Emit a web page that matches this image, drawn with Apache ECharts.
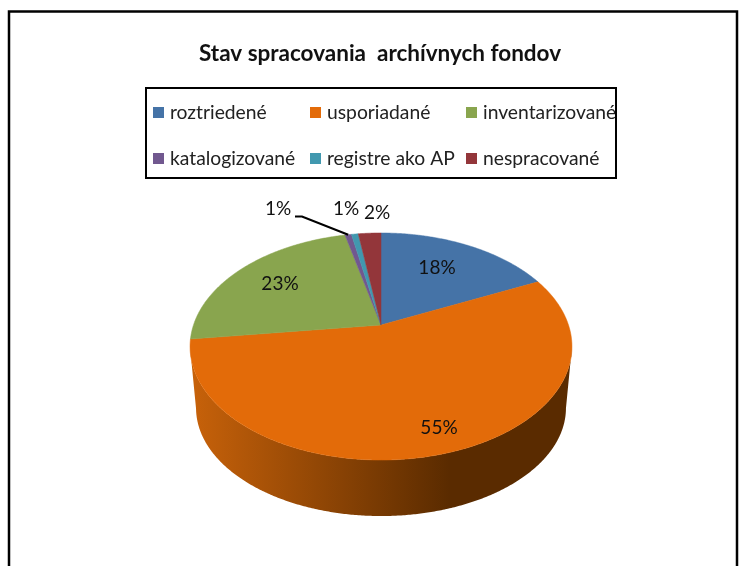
<!DOCTYPE html>
<html>
<head>
<meta charset="utf-8">
<style>html,body{margin:0;padding:0;background:#fff}#c{width:745px;height:566px}</style>
<script src="https://cdn.jsdelivr.net/npm/echarts@6/dist/echarts.min.js"></script>
</head>
<body>
<div id="c"></div>
<script>
const titleText = 'Stav spracovania  archívnych fondov';
const categories = ['roztriedené', 'usporiadané', 'inventarizované', 'katalogizované', 'registre ako AP', 'nespracované'];
const shareValues = [18, 55, 23.35, 0.65, 0.7, 2.3];
const sliceColors = ['#4573A7', '#E36B09', '#89A54E', '#71588F', '#4198AF', '#93363A'];

const FONT = 'Lato,sans-serif';
const legendSlots = [[153, 103], [310, 103], [466, 103], [153, 149], [310, 149], [466, 149]];
const labelSlots = [[437, 268], [439, 428], [280, 284], [278, 209], [346, 209], [377, 213]];

// Tilted-pie projection
const apex = { x: 381, y: 325 };
const persp = { c: -0.1894, a: 47.9, k: 187.5 };
const topEllipse = { cy: 346.5, rx: 191, ry: 113.5 };
const baseEllipse = { cy: 408, rx: 185, ry: 108 };

const total = shareValues.reduce((s, v) => s + v, 0);
const startShare = shareValues.map((_, i) => shareValues.slice(0, i).reduce((s, v) => s + v, 0));

function project(theta) {
  const u = Math.sin(theta), v = -Math.cos(theta), d = 1 + persp.c * v;
  return [apex.x + persp.k * u / d, (persp.a * v + apex.y) / d];
}
function toBase(p) {
  return [
    apex.x + (p[0] - apex.x) * baseEllipse.rx / topEllipse.rx,
    baseEllipse.cy + (p[1] - topEllipse.cy) * baseEllipse.ry / topEllipse.ry
  ];
}
function arcPoints(a0, a1) {
  const n = Math.max(2, Math.ceil((a1 - a0) / 0.008));
  const pts = [];
  for (let i = 0; i <= n; i++) pts.push(project(a0 + (a1 - a0) * i / n));
  return pts;
}

function renderSlice(idx, api) {
  const value = api.value(0);
  const a0 = startShare[idx] / total * Math.PI * 2;
  const a1 = a0 + value / total * Math.PI * 2;
  const arc = arcPoints(a0, a1);
  const children = [];
  const front = arc.filter(p => p[1] >= topEllipse.cy);
  if (front.length > 1) {
    const back = front.map(toBase).reverse();
    children.push({
      type: 'polygon', z2: 1,
      shape: { points: front.concat(back) },
      style: {
        fill: new echarts.graphic.LinearGradient(190, 0, 572, 0, [
          { offset: 0, color: '#C8620A' },
          { offset: 0.68, color: '#5A2B00' },
          { offset: 1, color: '#5A2B00' }
        ], true)
      }
    });
  }
  children.push({
    type: 'polygon', z2: 2,
    shape: { points: [[apex.x, apex.y]].concat(arc) },
    style: { fill: sliceColors[idx], stroke: sliceColors[idx], lineWidth: 0.5 }
  });
  if (idx === 3) {
    const mid = project((a0 + a1) / 2);
    children.push({
      type: 'polyline', z2: 3,
      shape: { points: [[295, 216.5], [302, 216.5], mid] },
      style: { fill: null, stroke: '#000', lineWidth: 2.2 }
    });
  }
  children.push({
    type: 'text', z2: 4,
    style: {
      x: labelSlots[idx][0], y: labelSlots[idx][1],
      text: Math.round(value / total * 100) + '%',
      font: '19px ' + FONT, fill: '#111', align: 'center', verticalAlign: 'middle'
    }
  });
  return { type: 'group', children };
}

const chart = echarts.init(document.getElementById('c'), null, { renderer: 'canvas' });
chart.setOption({
  animation: false,
  backgroundColor: '#fff',
  title: {
    text: titleText, left: 375, top: 37, textAlign: 'center',
    textStyle: { fontFamily: FONT, fontSize: 22.5, fontWeight: 'bold', color: '#111' }
  },
  legend: categories.map((name, i) => ({
    data: [name], left: legendSlots[i][0], top: legendSlots[i][1],
    padding: 0, itemWidth: 11, itemHeight: 11, itemGap: 0, selectedMode: false,
    icon: 'rect', textStyle: { fontFamily: FONT, fontSize: 19.3, color: '#222', padding: [0, 0, 0, 1] }
  })),
  series: categories.map((name, i) => ({
    type: 'custom', name, coordinateSystem: 'none',
    data: [[shareValues[i]]],
    itemStyle: { color: sliceColors[i] },
    renderItem: (params, api) => renderSlice(i, api),
    silent: true
  })),
  graphic: [
    { type: 'rect', z: 100, shape: { x: 146, y: 88, width: 470, height: 90 },
      style: { fill: null, stroke: '#000', lineWidth: 2 } },
    { type: 'polyline', z: 100,
      shape: { points: [[9, 566], [9, 11.5], [737, 11.5], [737, 566]] },
      style: { fill: null, stroke: '#000', lineWidth: 2.5 } }
  ]
});
</script>
</body>
</html>
